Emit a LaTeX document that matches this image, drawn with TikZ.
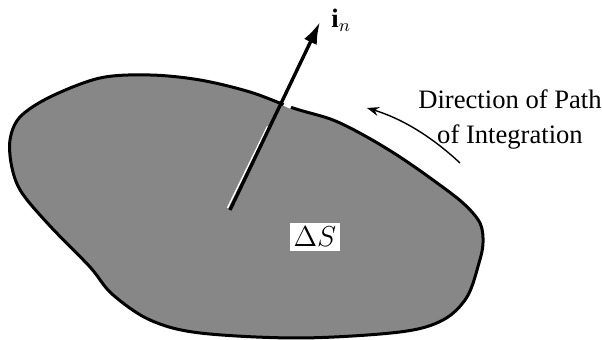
\documentclass[tikz,border=0pt]{standalone}
\usepackage{fontspec}
\setmainfont{Liberation Serif}
\usetikzlibrary{arrows.meta,calc}
\begin{document}
\begin{tikzpicture}[x=0.5pt,y=-0.5pt,
  region/.style={draw=black,line width=1.5pt,fill=black!47},
  normalarrow/.style={line width=1.7pt,-{Latex[length=11pt,width=7pt]}},
  patharrow/.style={line width=0.7pt,-{Stealth[length=6pt,width=4.5pt]}},
  lbl/.style={font=\fontsize{13.3}{13.5}\selectfont,inner sep=0pt}]
\useasboundingbox (0,0) rectangle (602,340);
\fill[white] (0,0) rectangle (602,340);
\draw[region] plot[smooth cycle,tension=0.55] coordinates {
 (10,140) (12,168) (22,193) (50,226) (90,267) (112,294) (150,320) (200,333) (300,338)
 (400,332) (443,320) (467,297) (479,263) (483,243) (480,223) (463,203)
 (433,180) (400,157) (367,137) (333,120) (293,108) (250,92) (200,80) (150,75) (100,78) (50,97) (20,117)};
\coordinate (base) at (230,210);
\coordinate (tip) at (320,22);
\draw[white,line width=0.7pt] ($(base)+(-2.5,-2)$) -- ($(tip)!0.555!(base)+(-2.5,0)$);
\draw[white,line width=2pt] (284,104) -- (291,107);
\draw[normalarrow] (base) -- (tip);
\node[lbl,anchor=west] (in) at (331,20) {$\mathbf{i}_n$};
\node[lbl,fill=white,inner xsep=2pt,inner ysep=2pt] (ds) at (315,237) {$\Delta S$};
\node[lbl,align=center] (dir) at (510,120) {Direction of Path\\[4pt]of Integration};
\coordinate (pa) at (460,163);
\coordinate (pb) at (367,108);
\draw[patharrow] (pa) .. controls (430,135) and (400,118) .. (pb);
\end{tikzpicture}
\end{document}
